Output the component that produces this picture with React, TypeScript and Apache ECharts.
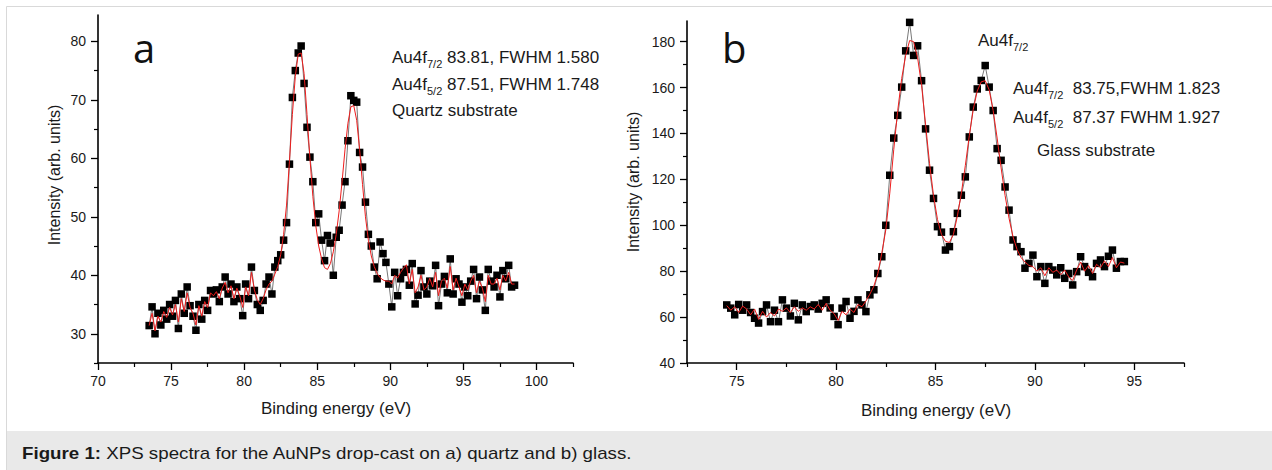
import React, { useEffect, useRef } from 'react';
import * as echarts from 'echarts';

// ---------- data: panel a (quartz) ----------
const QUARTZ_ENERGY = [
  73.5, 73.7, 73.9, 74.1, 74.3, 74.5, 74.7, 74.9, 75.1, 75.3,
  75.5, 75.7, 75.9, 76.1, 76.3, 76.5, 76.7, 76.9, 77.1, 77.3,
  77.5, 77.7, 77.9, 78.1, 78.3, 78.5, 78.7, 78.9, 79.1, 79.3,
  79.5, 79.7, 79.9, 80.1, 80.3, 80.5, 80.7, 80.9, 81.1, 81.3,
  81.5, 81.7, 81.9, 82.1, 82.3, 82.5, 82.7, 82.9, 83.1, 83.3,
  83.5, 83.7, 83.9, 84.1, 84.3, 84.5, 84.7, 84.9, 85.1, 85.3,
  85.5, 85.7, 85.9, 86.1, 86.3, 86.5, 86.7, 86.9, 87.1, 87.3,
  87.5, 87.7, 87.9, 88.1, 88.3, 88.5, 88.7, 88.9, 89.1, 89.3,
  89.5, 89.7, 89.9, 90.1, 90.3, 90.5, 90.7, 90.9, 91.1, 91.3,
  91.5, 91.7, 91.9, 92.1, 92.3, 92.5, 92.7, 92.9, 93.1, 93.3,
  93.5, 93.7, 93.9, 94.1, 94.3, 94.5, 94.7, 94.9, 95.1, 95.3,
  95.5, 95.7, 95.9, 96.1, 96.3, 96.5, 96.7, 96.9, 97.1, 97.3,
  97.5, 97.7, 97.9, 98.1, 98.3, 98.5,
];
const QUARTZ_COUNTS = [
  31.4, 34.6, 30.0, 33.5, 31.5, 34.0, 32.5, 35.0, 33.0, 35.7,
  30.9, 36.8, 33.5, 38.0, 34.8, 33.0, 30.6, 35.0, 32.5, 35.7,
  34.0, 37.4, 36.8, 37.5, 35.5, 38.0, 39.7, 36.8, 38.5, 35.5,
  38.0, 36.0, 33.1, 38.5, 36.0, 41.4, 37.4, 35.0, 34.0, 35.7,
  38.5, 39.7, 36.8, 41.4, 42.5, 43.5, 46.0, 49.0, 59.0, 70.4,
  75.0, 78.0, 79.2, 72.8, 65.3, 60.2, 56.0, 49.0, 50.5, 46.0,
  42.5, 46.8, 45.5, 40.0, 46.5, 47.7, 52.0, 56.0, 63.0, 70.7,
  69.9, 69.6, 61.0, 58.5, 52.5, 47.0, 45.0, 41.4, 39.4, 45.7,
  43.7, 42.2, 38.5, 34.6, 40.5, 36.5, 39.4, 40.5, 41.0, 38.3,
  42.0, 35.1, 36.6, 40.8, 38.0, 36.8, 39.0, 38.2, 41.7, 34.8,
  38.5, 39.8, 37.0, 42.8, 36.8, 39.4, 38.5, 35.4, 38.0, 36.5,
  39.0, 41.0, 36.0, 39.7, 37.5, 34.0, 41.0, 39.0, 38.0, 40.0,
  36.3, 40.8, 39.4, 41.7, 38.0, 38.3,
];
const QUARTZ_FIT = [
  31.4, 33.5, 30.5, 33.0, 32.0, 33.8, 32.8, 34.5, 33.2, 35.0,
  32.0, 36.0, 33.8, 37.0, 34.5, 33.5, 31.5, 34.8, 33.0, 35.5,
  34.5, 37.0, 36.5, 37.2, 36.0, 37.8, 38.8, 37.0, 38.2, 36.0,
  37.8, 36.5, 34.5, 38.0, 36.5, 40.5, 37.5, 35.8, 35.0, 36.0,
  37.5, 38.5, 39.0, 40.2, 41.5, 43.5, 47.0, 52.0, 59.5, 67.5,
  74.0, 77.8, 78.0, 74.5, 67.5, 60.0, 53.5, 48.5, 45.0, 42.8,
  41.3, 41.0, 42.0, 44.0, 47.0, 51.0, 56.0, 61.5, 66.0, 68.8,
  69.0, 66.5, 61.5, 55.5, 50.0, 46.0, 43.3, 41.5, 40.3, 39.6,
  39.2, 39.0, 39.0, 38.5, 40.0, 39.5, 40.5, 41.2, 41.8, 38.5,
  41.0, 37.0, 38.0, 40.0, 37.5, 38.0, 39.5, 38.0, 40.5, 36.5,
  39.0, 39.5, 37.8, 41.5, 37.5, 39.5, 38.0, 36.5, 38.5, 37.5,
  39.0, 40.0, 37.0, 39.0, 37.8, 35.5, 40.0, 38.5, 38.5, 39.5,
  37.5, 40.0, 39.0, 40.5, 38.5, 38.5,
];

// ---------- data: panel b (glass) ----------
const GLASS_ENERGY = [
  74.5, 74.7, 74.9, 75.1, 75.3, 75.5, 75.7, 75.9, 76.1, 76.3,
  76.5, 76.7, 76.9, 77.1, 77.3, 77.5, 77.7, 77.9, 78.1, 78.3,
  78.5, 78.7, 78.9, 79.1, 79.3, 79.5, 79.7, 79.9, 80.1, 80.3,
  80.5, 80.7, 80.9, 81.1, 81.3, 81.5, 81.7, 81.9, 82.1, 82.3,
  82.5, 82.7, 82.9, 83.1, 83.3, 83.5, 83.7, 83.9, 84.1, 84.3,
  84.5, 84.7, 84.9, 85.1, 85.3, 85.5, 85.7, 85.9, 86.1, 86.3,
  86.5, 86.7, 86.9, 87.1, 87.3, 87.5, 87.7, 87.9, 88.1, 88.3,
  88.5, 88.7, 88.9, 89.1, 89.3, 89.5, 89.7, 89.9, 90.1, 90.3,
  90.5, 90.7, 90.9, 91.1, 91.3, 91.5, 91.7, 91.9, 92.1, 92.3,
  92.5, 92.7, 92.9, 93.1, 93.3, 93.5, 93.7, 93.9, 94.1, 94.3,
  94.5,
];
const GLASS_COUNTS = [
  65.3, 63.9, 61.0, 65.5, 63.0, 65.3, 62.0, 59.5, 57.4, 62.4,
  65.3, 58.0, 63.0, 58.0, 67.5, 63.9, 60.5, 66.0, 58.8, 65.3,
  62.4, 64.6, 65.3, 63.5, 66.0, 67.5, 64.0, 60.3, 56.7, 63.9,
  66.8, 59.5, 62.5, 67.5, 65.3, 62.4, 69.7, 71.9, 79.0, 86.3,
  100.0, 121.8, 138.0, 147.9, 160.2, 176.0, 188.4, 174.0, 178.2, 163.0,
  142.0, 124.0, 111.7, 99.4, 97.0, 89.2, 90.7, 97.2, 105.2, 113.1,
  121.1, 138.5, 151.5, 159.4, 163.1, 169.6, 160.2, 150.0, 133.4, 128.3,
  116.7, 106.6, 93.6, 90.7, 88.5, 81.3, 83.4, 87.0, 77.6, 82.0,
  74.7, 82.0, 80.5, 78.4, 81.5, 76.9, 79.0, 74.0, 79.8, 86.3,
  82.0, 79.5, 77.6, 83.4, 84.9, 82.0, 86.5, 89.2, 81.3, 84.2,
  84.2,
];
const GLASS_FIT = [
  65.0, 63.0, 64.5, 62.0, 64.8, 63.5, 61.0, 63.5, 59.0, 62.5,
  60.0, 62.0, 60.5, 63.5, 62.5, 64.0, 62.0, 64.5, 62.5, 64.0,
  63.0, 64.5, 63.5, 65.5, 63.0, 66.0, 63.0, 61.5, 58.5, 62.5,
  61.0, 63.5, 62.0, 65.5, 64.5, 67.0, 70.0, 73.5, 79.0, 88.0,
  98.0, 114.0, 133.0, 150.0, 164.0, 174.0, 180.5, 180.0, 173.0, 161.0,
  144.0, 127.0, 113.0, 102.5, 96.0, 93.0, 92.5, 96.0, 104.0, 114.0,
  126.0, 139.0, 150.5, 158.5, 162.5, 163.0, 159.0, 150.0, 138.0, 125.0,
  113.0, 103.0, 95.0, 89.5, 86.0, 84.0, 82.5, 82.0, 80.0, 81.5,
  78.0, 81.5, 79.5, 80.5, 78.5, 80.5, 77.5, 76.0, 80.5, 84.0,
  80.0, 82.5, 79.0, 83.0, 81.5, 84.5, 82.0, 86.0, 81.5, 84.0,
  83.5,
];

// ---------- axis ticks ----------
const QUARTZ_X_TICKS = [70, 75, 80, 85, 90, 95, 100];
const QUARTZ_X_MINOR = [72.5, 77.5, 82.5, 87.5, 92.5, 97.5, 102.5];
const QUARTZ_Y_TICKS = [30, 40, 50, 60, 70, 80];
const QUARTZ_Y_MINOR = [25, 35, 45, 55, 65, 75];
const GLASS_X_TICKS = [75, 80, 85, 90, 95];
const GLASS_X_MINOR = [72.5, 77.5, 82.5, 87.5, 92.5, 97.5];
const GLASS_Y_TICKS = [40, 60, 80, 100, 120, 140, 160, 180];
const GLASS_Y_MINOR = [50, 70, 90, 110, 130, 150, 170];

const FONT = "'Liberation Sans', Arial, Helvetica, sans-serif";
const INK = '#1a1a1a';

const pairs = (xs: number[], ys: number[]) => xs.map((x, i) => [x, ys[i]]);

function mainAxis(dim: 'x' | 'y', grid: number, min: number, max: number, ticks: number[]) {
  return {
    type: 'value',
    gridIndex: grid,
    min,
    max,
    position: dim === 'x' ? 'bottom' : 'left',
    axisLine: { show: true, onZero: false, lineStyle: { color: '#000', width: 1.6 } },
    axisTick: { show: true, customValues: ticks, length: 7, lineStyle: { color: '#000', width: 1.3 } },
    axisLabel: {
      show: true,
      customValues: ticks,
      margin: dim === 'x' ? 11 : 12,
      fontSize: 14,
      color: INK,
      fontFamily: FONT,
    },
    splitLine: { show: false },
  };
}

function minorAxis(dim: 'x' | 'y', grid: number, min: number, max: number, ticks: number[]) {
  return {
    type: 'value',
    gridIndex: grid,
    min,
    max,
    position: dim === 'x' ? 'bottom' : 'left',
    offset: 0,
    axisLine: { show: false, onZero: false },
    axisTick: { show: true, customValues: ticks, length: 4, lineStyle: { color: '#000', width: 1.2 } },
    axisLabel: { show: false },
    splitLine: { show: false },
  };
}

function dataSeries(xIdx: number, yIdx: number, xs: number[], ys: number[]) {
  return {
    type: 'line',
    xAxisIndex: xIdx,
    yAxisIndex: yIdx,
    data: pairs(xs, ys),
    symbol: 'rect',
    symbolSize: 7.5,
    showSymbol: true,
    showAllSymbol: true,
    itemStyle: { color: '#000' },
    lineStyle: { color: '#555', width: 0.8 },
    z: 2,
  };
}

function fitSeries(xIdx: number, yIdx: number, xs: number[], ys: number[]) {
  return {
    type: 'line',
    xAxisIndex: xIdx,
    yAxisIndex: yIdx,
    data: pairs(xs, ys),
    symbol: 'none',
    lineStyle: { color: '#ee1c1c', width: 1 },
    z: 3,
  };
}

const SUB = { fontSize: 11, lineHeight: 11, verticalAlign: 'bottom', fontFamily: FONT, fill: INK };

function label(x: number, y: number, text: string, size = 17, extra: any = {}, scaleX = 1) {
  return {
    type: 'text',
    x,
    y,
    scaleX,
    silent: true,
    style: {
      text,
      fontSize: size,
      fontFamily: FONT,
      fill: INK,
      lineHeight: 24,
      align: 'left',
      verticalAlign: 'middle',
      rich: { s: SUB, b: { fontWeight: 'bold', fontSize: size, fontFamily: FONT, fill: INK, lineHeight: 24 } },
      ...extra,
    },
    z: 10,
  };
}

export default function App() {
  const ref = useRef<HTMLDivElement>(null);

  useEffect(() => {
    if (!ref.current) return;
    const chart = echarts.init(ref.current, undefined, { renderer: 'svg' });
    chart.setOption({
      animation: false,
      backgroundColor: '#ffffff',
      grid: [
        { left: 98, top: 15, width: 475, height: 348 },
        { left: 687, top: 21, width: 497, height: 342 },
      ],
      xAxis: [
        mainAxis('x', 0, 70, 102.5, QUARTZ_X_TICKS),
        minorAxis('x', 0, 70, 102.5, QUARTZ_X_MINOR),
        mainAxis('x', 1, 72.5, 97.5, GLASS_X_TICKS),
        minorAxis('x', 1, 72.5, 97.5, GLASS_X_MINOR),
      ],
      yAxis: [
        mainAxis('y', 0, 25, 84.5, QUARTZ_Y_TICKS),
        minorAxis('y', 0, 25, 84.5, QUARTZ_Y_MINOR),
        mainAxis('y', 1, 40, 189, GLASS_Y_TICKS),
        minorAxis('y', 1, 40, 189, GLASS_Y_MINOR),
      ],
      series: [
        dataSeries(0, 0, QUARTZ_ENERGY, QUARTZ_COUNTS),
        fitSeries(0, 0, QUARTZ_ENERGY, QUARTZ_FIT),
        dataSeries(2, 2, GLASS_ENERGY, GLASS_COUNTS),
        fitSeries(2, 2, GLASS_ENERGY, GLASS_FIT),
      ],
      graphic: [
        // frame and caption band
        { type: 'rect', shape: { x: 7, y: 431, width: 1265, height: 39 }, style: { fill: '#e9e9e9' }, silent: true, z: 0 },
        { type: 'line', shape: { x1: 6.5, y1: 6.5, x2: 1272, y2: 6.5 }, style: { stroke: '#d9d9d9', lineWidth: 1 }, silent: true, z: 1 },
        { type: 'line', shape: { x1: 6.5, y1: 6.5, x2: 6.5, y2: 470 }, style: { stroke: '#d9d9d9', lineWidth: 1 }, silent: true, z: 1 },
        // panel letters
        { type: 'text', x: 133, y: 47, silent: true, style: { text: 'a', fontSize: 40, fontFamily: "'Open Sans', 'Liberation Sans', sans-serif", fill: '#111', verticalAlign: 'middle' } },
        { type: 'text', x: 722, y: 47, silent: true, style: { text: 'b', fontSize: 40, fontFamily: "'Open Sans', 'Liberation Sans', sans-serif", fill: '#111', verticalAlign: 'middle' } },
        // panel a annotations
        label(392, 57, 'Au4f{s|7/2} 83.81, FWHM 1.580'),
        label(392, 84, 'Au4f{s|5/2} 87.51, FWHM 1.748'),
        label(392, 110, 'Quartz substrate'),
        // panel b annotations
        label(978, 40, 'Au4f{s|7/2}'),
        label(1013, 88, 'Au4f{s|7/2}  83.75,FWHM 1.823'),
        label(1013, 117, 'Au4f{s|5/2}  87.37 FWHM 1.927'),
        label(1037, 150, 'Glass substrate'),
        // axis names
        { type: 'text', x: 336, y: 408, silent: true, style: { text: 'Binding energy (eV)', fontSize: 17, fontFamily: FONT, fill: INK, align: 'center', verticalAlign: 'middle' } },
        { type: 'text', x: 936, y: 410, silent: true, style: { text: 'Binding energy (eV)', fontSize: 17, fontFamily: FONT, fill: INK, align: 'center', verticalAlign: 'middle' } },
        { type: 'text', x: 54, y: 175, rotation: Math.PI / 2, silent: true, style: { text: 'Intensity (arb. units)', fontSize: 16, fontFamily: FONT, fill: INK, align: 'center', verticalAlign: 'middle' } },
        { type: 'text', x: 633, y: 182, rotation: Math.PI / 2, silent: true, style: { text: 'Intensity (arb. units)', fontSize: 16, fontFamily: FONT, fill: INK, align: 'center', verticalAlign: 'middle' } },
        // caption
        label(22, 453, '{b|Figure 1:} XPS spectra for the AuNPs drop-cast on a) quartz and b) glass.', 16, {}, 1.17),
      ],
    });
    return () => chart.dispose();
  }, []);

  return (
    <div
      ref={ref}
      style={{ position: 'absolute', left: 0, top: 0, width: 1272, height: 470, background: '#fff' }}
    />
  );
}
